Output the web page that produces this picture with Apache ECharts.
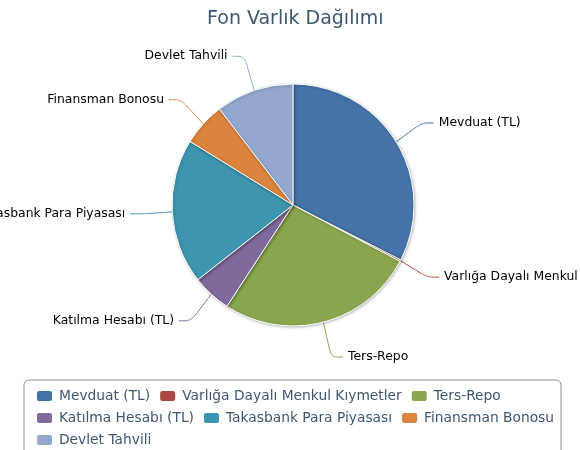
<!DOCTYPE html>
<html>
<head>
<meta charset="utf-8">
<script src="https://cdn.jsdelivr.net/npm/echarts@6/dist/echarts.min.js"></script>
<style>
  html, body { margin: 0; padding: 0; background: #ffffff; }
  #chart { width: 580px; height: 450px; }
</style>
</head>
<body>
<div id="chart"></div>
<script>
var titleText = 'Fon Varlık Dağılımı';
var categories = [
  'Mevduat (TL)',
  'Varlığa Dayalı Menkul Kıymetler',
  'Ters-Repo',
  'Katılma Hesabı (TL)',
  'Takasbank Para Piyasası',
  'Finansman Bonosu',
  'Devlet Tahvili'
];
var values = [32.5, 0.2, 26.5, 5.2, 19.4, 5.8, 10.4];
var colors = ['#4572A7', '#AA4643', '#89A54E', '#80699B', '#3D96AE', '#DB843D', '#92A8CD'];

var CX = 293, CY = 205, R = 121;
var labelSpread = 1.04; // vertical spread of outside labels around the pie centre

var chart = echarts.init(document.getElementById('chart'), null, { renderer: 'canvas' });
var pieData = categories.map(function (name, i) {
  return { name: name, value: values[i] };
});

function spreadY(y) { return CY + (y - CY) * labelSpread; }

chart.setOption({
  animation: false,
  color: colors,
  textStyle: { fontFamily: 'DejaVu Sans' },
  title: {
    text: titleText,
    left: 202,
    top: 5,
    textStyle: { color: '#3E576F', fontSize: 19, fontWeight: 'normal', fontFamily: 'DejaVu Sans' }
  },
  legend: {
    data: categories,
    orient: 'horizontal',
    left: 24,
    top: 380,
    width: 530,
    padding: [9, 7, 10, 11],
    itemWidth: 17,
    itemHeight: 12,
    itemGap: 8,
    icon: 'roundRect',
    borderColor: '#909090',
    borderWidth: 1,
    borderRadius: 5,
    textStyle: { color: '#3E576F', fontSize: 13.8, fontFamily: 'DejaVu Sans', padding: [0, 0, 0, 1] }
  },
  series: [{
    type: 'pie',
    center: [CX, CY],
    radius: R,
    startAngle: 90,
    clockwise: true,
    data: pieData,
    avoidLabelOverlap: false,
    itemStyle: {
      borderColor: '#ffffff',
      borderWidth: 1,
      shadowBlur: 3,
      shadowOffsetX: 1,
      shadowOffsetY: 1,
      shadowColor: 'rgba(0,0,0,0.25)'
    },
    label: {
      show: true,
      position: 'outside',
      overflow: 'none',
      color: '#000000',
      fontSize: 12.4,
      fontFamily: 'DejaVu Sans',
      distanceToLabelLine: 5
    },
    labelLine: {
      show: true,
      length: 30,
      length2: 12,
      smooth: 0.3,
      lineStyle: { width: 1 }
    },
    labelLayout: function (p) {
      var r = p.labelRect;
      var pts = p.labelLinePoints;
      var x = p.align === 'right' ? r.x + r.width : (p.align === 'center' ? r.x + r.width / 2 : r.x);
      var y = spreadY(r.y + r.height / 2);
      var out = { x: x, y: y, verticalAlign: 'middle' };
      if (pts && pts.length) {
        out.labelLinePoints = pts.map(function (pt, i) {
          return i === 0 ? [pt[0], pt[1]] : [pt[0], spreadY(pt[1])];
        });
      }
      return out;
    },
    emphasis: { disabled: true }
  }]
});
</script>
</body>
</html>
